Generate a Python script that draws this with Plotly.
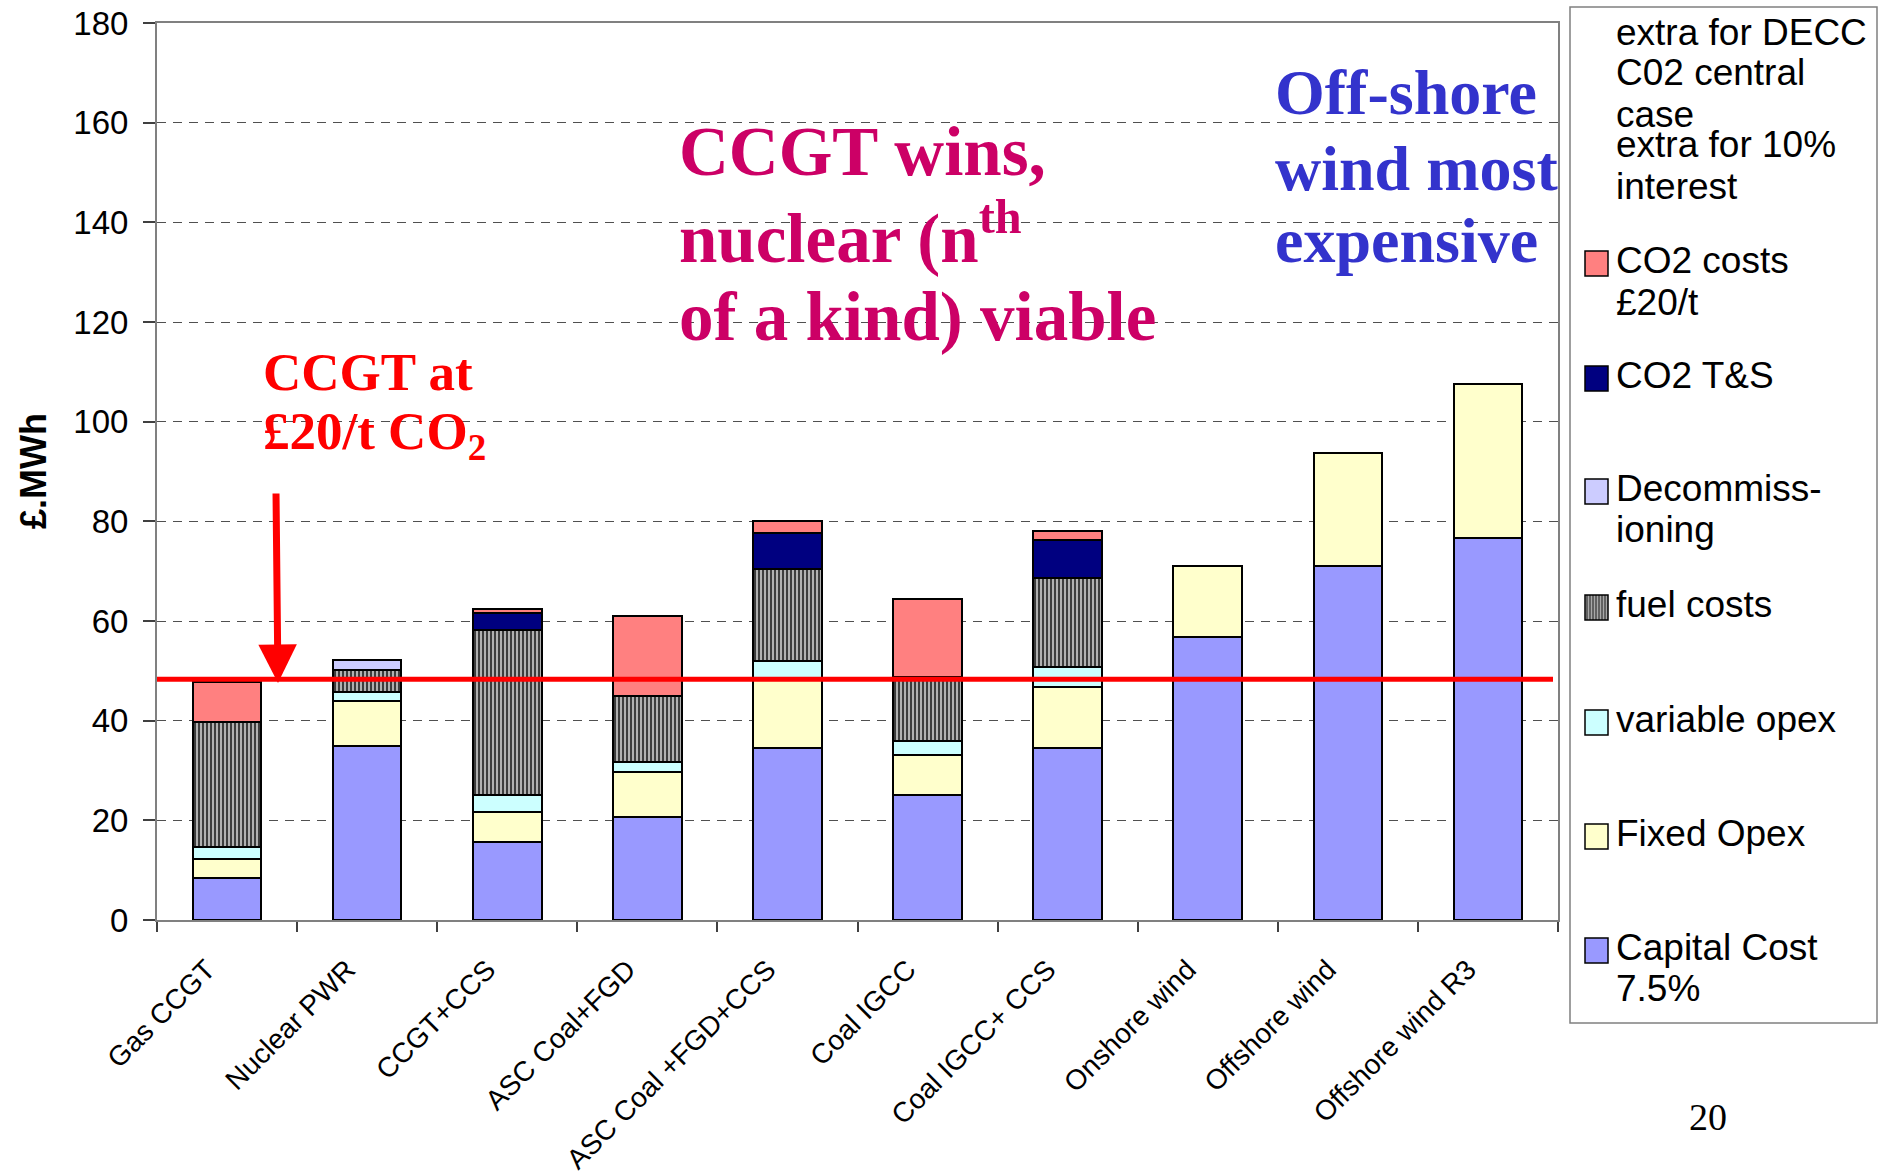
import plotly.graph_objects as go

# ---------------- data ----------------
categories = ["Gas CCGT", "Nuclear PWR", "CCGT+CCS", "ASC Coal+FGD", "ASC Coal +FGD+CCS",
              "Coal IGCC", "Coal IGCC+ CCS", "Onshore wind", "Offshore wind", "Offshore wind R3"]
capital_cost = [8.4, 35.0, 15.6, 20.7, 34.6, 25.1, 34.6, 56.8, 71.0, 76.7]
fixed_opex = [3.8, 9.0, 6.1, 9.1, 13.7, 8.0, 12.2, 14.2, 22.8, 30.9]
variable_opex = [2.4, 1.8, 3.4, 1.9, 3.7, 2.8, 3.9, None, None, None]
fuel_costs = [25.1, 4.4, 33.1, 13.3, 18.5, 12.8, 18.0, None, None, None]
decommissioning = [None, 1.9, None, None, None, None, None, None, None, None]
co2_ts = [None, None, 3.4, None, 7.2, None, 7.5, None, None, None]
co2_costs = [8.0, None, 0.8, 16.1, 2.3, 15.8, 1.9, None, None, None]
ccgt_co2_level = 48.3
y_ticks = [0, 20, 40, 60, 80, 100, 120, 140, 160, 180]

legend_labels = [
    ["extra for DECC", "C02 central", "case"],
    ["extra for 10%", "interest"],
    ["CO2 costs", "£20/t"],
    ["CO2 T&S"],
    ["Decommiss-", "ioning"],
    ["fuel costs"],
    ["variable opex"],
    ["Fixed Opex"],
    ["Capital Cost", "7.5%"],
]
note_magenta = ["CCGT wins,", "nuclear (n<sup>th</sup>", "of a kind) viable"]
note_blue = ["Off-shore", "wind most", "expensive"]
note_red = ["CCGT at", "£20/t CO<sub>2</sub>"]

# ---------------- styling ----------------
W, H = 1886, 1176
L, R, T, B = 157, 1558, 23, 920   # plot area in pixels


def px(x):
    return (x - L) / (R - L)


def py(y):
    return (B - y) / (B - T)


SANS = "Liberation Sans, Arial, sans-serif"
SERIF = "Liberation Serif, Times New Roman, serif"

series = [
    ("Capital Cost 7.5%", capital_cost, "#9999FF", None),
    ("Fixed Opex", fixed_opex, "#FFFFCC", None),
    ("variable opex", variable_opex, "#CCFFFF", None),
    ("fuel costs", fuel_costs, "#888888", "|"),
    ("Decommissioning", decommissioning, "#CCCCFF", None),
    ("CO2 T&S", co2_ts, "#000080", None),
    ("CO2 costs £20/t", co2_costs, "#FF8080", None),
]

fig = go.Figure()
for name, vals, color, pat in series:
    marker = dict(color=color, line=dict(color="#000000", width=2))
    if pat:
        marker["pattern"] = dict(shape=pat, fgcolor="#3c3c3c", bgcolor="#b0b0b0",
                                 size=4, solidity=0.5, fillmode="replace")
    fig.add_trace(go.Bar(x=categories, y=vals, name=name, marker=marker,
                         showlegend=False, hoverinfo="x+y+name"))

shapes = []
annotations = []

# CCGT at £20/t line
shapes.append(dict(type="line", xref="paper", yref="y", x0=0, x1=px(1553),
                   y0=ccgt_co2_level, y1=ccgt_co2_level,
                   line=dict(color="#FF0000", width=5), layer="above"))

# legend box
shapes.append(dict(type="rect", xref="paper", yref="paper", x0=px(1570), x1=px(1877),
                   y0=py(7), y1=py(1023), line=dict(color="#808080", width=1.5),
                   fillcolor="rgba(0,0,0,0)"))

legend_baselines = [[45, 85, 127], [157, 199], [273, 315], [388], [501, 542],
                    [617], [732], [846], [960, 1001]]
swatch_colors = [None, None, "#FF8080", "#000080", "#CCCCFF", "stripe",
                 "#CCFFFF", "#FFFFCC", "#9999FF"]
LEG_FONT = 37
for lines, bls, sc in zip(legend_labels, legend_baselines, swatch_colors):
    for text, bl in zip(lines, bls):
        annotations.append(dict(text=text, xref="paper", yref="paper",
                                x=px(1614), y=py(bl - 0.35 * LEG_FONT),
                                xanchor="left", yanchor="middle", showarrow=False,
                                font=dict(family=SANS, size=LEG_FONT, color="#000000")))
    if sc is None:
        continue
    top, bot = bls[0] - 22, bls[0] + 3
    x0, x1 = 1585, 1608
    if sc == "stripe":
        shapes.append(dict(type="rect", xref="paper", yref="paper", x0=px(x0), x1=px(x1),
                           y0=py(bot), y1=py(top), fillcolor="#a8a8a8", line=dict(width=0)))
        xx = x0 + 2
        while xx < x1 - 1:
            shapes.append(dict(type="line", xref="paper", yref="paper", x0=px(xx), x1=px(xx),
                               y0=py(bot), y1=py(top), line=dict(color="#3c3c3c", width=1.3)))
            xx += 3
        shapes.append(dict(type="rect", xref="paper", yref="paper", x0=px(x0), x1=px(x1),
                           y0=py(bot), y1=py(top), fillcolor="rgba(0,0,0,0)",
                           line=dict(color="#000000", width=1.5)))
    else:
        shapes.append(dict(type="rect", xref="paper", yref="paper", x0=px(x0), x1=px(x1),
                           y0=py(bot), y1=py(top), fillcolor=sc,
                           line=dict(color="#000000", width=1.5)))


def add_lines(lines, baselines, left, size, color):
    for text, bl in zip(lines, baselines):
        annotations.append(dict(text=text, xref="paper", yref="paper",
                                x=px(left), y=py(bl - 0.34 * size),
                                xanchor="left", yanchor="middle", align="left",
                                showarrow=False,
                                font=dict(family=SERIF, size=size, color=color,
                                          weight="bold")))


add_lines(note_magenta, [175, 257, 340], 677, 69, "#CC0066")
add_lines(note_blue, [114, 190, 262], 1273, 64, "#3333CC")
add_lines(note_red, [390, 453], 261, 53, "#FF0000")

annotations.append(dict(text="", xref="paper", yref="paper", x=px(278), y=py(683),
                        ax=-2, ay=-191, showarrow=True, arrowhead=2, arrowsize=1.1,
                        arrowwidth=7, arrowcolor="#FF0000", standoff=0))
annotations.append(dict(text="20", xref="paper", yref="paper", x=px(1708), y=py(1117),
                        xanchor="center", yanchor="middle", showarrow=False,
                        font=dict(family=SERIF, size=38, color="#000000")))
annotations.append(dict(text="<b>£.MWh</b>", xref="paper", yref="paper", x=px(34), y=py(471),
                        xanchor="center", yanchor="middle", textangle=-90, showarrow=False,
                        font=dict(family=SANS, size=36, color="#000000")))

fig.update_layout(
    width=W, height=H,
    margin=dict(l=L, r=W - R, t=T, b=H - B, autoexpand=False),
    barmode="stack", bargap=0.51,
    plot_bgcolor="#FFFFFF", paper_bgcolor="#FFFFFF",
    shapes=shapes, annotations=annotations,
    showlegend=False,
    xaxis=dict(type="category", tickson="boundaries", ticks="outside", ticklen=10,
               tickwidth=1.5, tickcolor="#404040", tickangle=-45,
               ticklabelstandoff=20, ticklabelshift=-20,
               showline=True, linecolor="#808080", linewidth=2, mirror=True,
               showgrid=False, automargin=False,
               tickfont=dict(family=SANS, size=28, color="#000000")),
    yaxis=dict(range=[0, 180], tickvals=y_ticks, ticks="outside", ticklen=12,
               tickwidth=1.5, tickcolor="#404040", ticklabelstandoff=8,
               showline=True, linecolor="#808080", linewidth=2, mirror=True,
               showgrid=True, gridcolor="#505050", gridwidth=1.3, griddash="9px,7px",
               zeroline=False, automargin=False,
               tickfont=dict(family=SANS, size=33, color="#000000")),
)

fig.write_html("out.html", config={"displayModeBar": False},
               post_script="document.body.style.margin='0';document.body.style.overflow='hidden';")
